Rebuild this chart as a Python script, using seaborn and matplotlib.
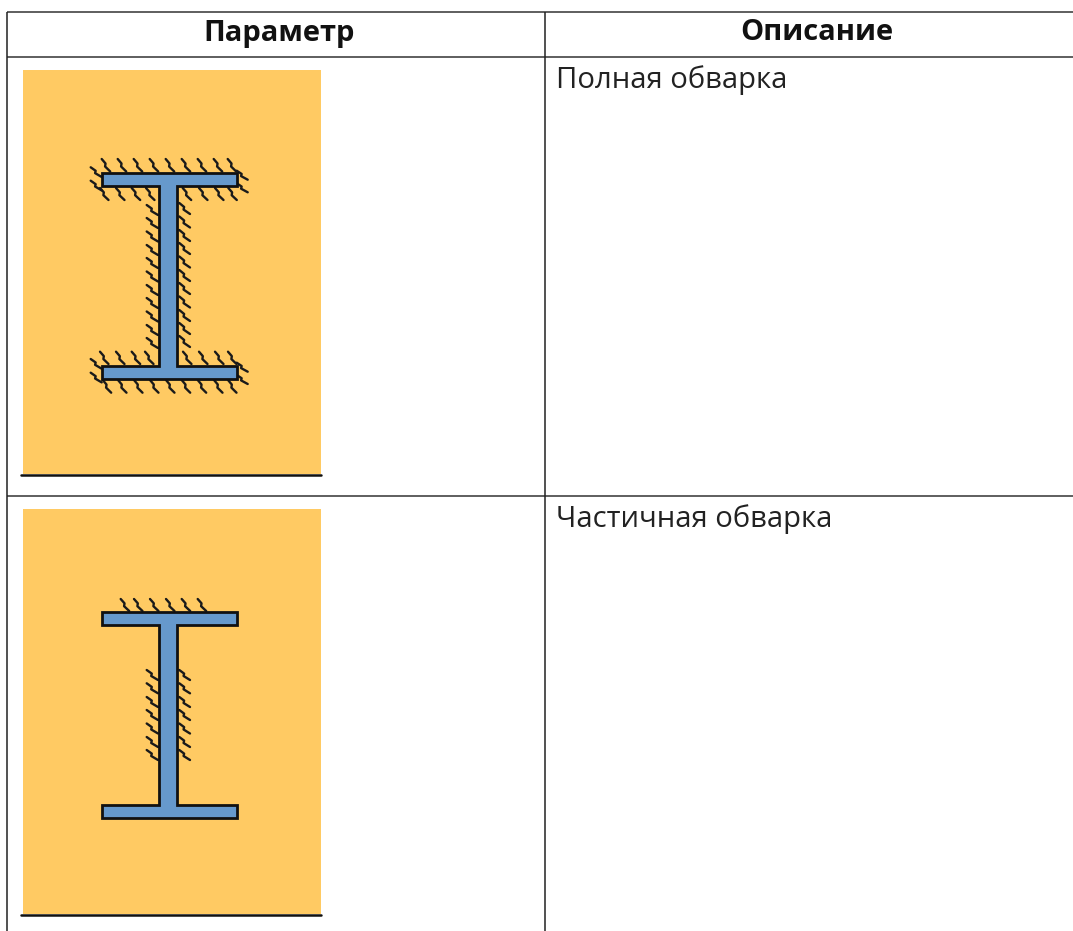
import matplotlib.pyplot as plt
import matplotlib.patches as mpatches
import seaborn as sns
import pandas as pd

# Table text
headers = ['Параметр', 'Описание']
descriptions = ['Полная обварка', 'Частичная обварка']

# Table rules, in image pixels
row_lines = [11.5, 57, 496]
col_lines = [7.2, 545.2]

# Drawing panels: top, bottom of the orange sheet and top of each beam
panel_top = [70, 509]
panel_bottom = [474, 914]
beam_top = [173, 612]

# Weld ticks of the full weld, (x, y) of the upper left end, relative to beam 1
flange_top_x = [101.7, 117.7, 133.7, 149.7, 165.7, 181.7, 197.7, 213.7, 227.7]
flange_under_x = [100, 116, 131.7, 146, 182.7, 199, 215, 228.3]
web_left_y = [205, 218, 231.5, 245, 258, 271.5, 285, 298, 311.5, 325, 338]
web_right_y = [203, 216.5, 230, 243, 256.5, 270, 283, 296.5, 310, 323, 336]
lower_top_x = [100, 116, 131.7, 145, 183, 199, 215, 228]
lower_under_x = [102.7, 118, 134, 150, 166, 181.7, 197.7, 214, 228]
end_left_y = [167.3, 180.7, 359, 372.7]
end_right_y = [170.7, 183.3, 362.7, 375]

# Weld ticks of the partial weld
part_top_x = [120.7, 134, 150, 166, 181.7, 197.7]
part_left_y = [670, 683.3, 697, 710, 723.5, 737, 750]
part_right_y = [670, 683.3, 697, 710, 723.5, 737, 750]


def add_tick(rows, x0, y0, dx, dy):
    # one small zigzag weld stroke going down and right
    n = rows[-1]['tick'] + 1 if rows else 0
    pts = [(0, 0), (0.45, 0.36), (0.4, 0.6), (1, 1)]
    for fx, fy in pts:
        rows.append({'x': x0 + fx * dx, 'y': y0 + fy * dy, 'tick': n})


def weld_ticks():
    rows = []
    for x in flange_top_x:
        add_tick(rows, x, 159, 8.5, 12.5)
    for x in flange_under_x:
        add_tick(rows, x, 188, 8.5, 12)
    for y in web_left_y:
        add_tick(rows, 146.7, y, 11.3, 10)
    for y in web_right_y:
        add_tick(rows, 179.3, y, 10.7, 11)
    for x in lower_top_x:
        add_tick(rows, x, 351.7, 8.5, 12.3)
    for x in lower_under_x:
        add_tick(rows, x, 380, 8.5, 12.7)
    for y in end_left_y:
        add_tick(rows, 90.7, y, 11, 9.7)
    for y in end_right_y:
        add_tick(rows, 236.7, y, 11, 9)
    for x in part_top_x:
        add_tick(rows, x, 599, 8.5, 12)
    for y in part_left_y:
        add_tick(rows, 146.7, y, 11.3, 10)
    for y in part_right_y:
        add_tick(rows, 179.3, y, 10.7, 10)
    return pd.DataFrame(rows)


def draw_beam(ax, top):
    # I-beam outline: flange, web, flange as a single polygon
    pts = [(102, top), (237, top), (237, top + 13), (177, top + 13),
           (177, top + 193), (237, top + 193), (237, top + 206),
           (102, top + 206), (102, top + 193), (159, top + 193),
           (159, top + 13), (102, top + 13)]
    ax.add_patch(mpatches.Polygon(pts, closed=True, facecolor='#6699CC',
                                  edgecolor='#111111', linewidth=2.0, zorder=4))


sns.set_theme(style='white')
plt.rcParams['font.family'] = ['Open Sans', 'DejaVu Sans']

fig = plt.figure(figsize=(10.73, 9.31), dpi=100)
ax = fig.add_axes([0, 0, 1, 1])

for top, bottom, beam in zip(panel_top, panel_bottom, beam_top):
    ax.add_patch(mpatches.Rectangle((23, top), 298, bottom - top,
                                    facecolor='#FFCA63', edgecolor='none', zorder=1))
    ax.plot([21, 321], [bottom + 1, bottom + 1], color='#111111', lw=1.8, zorder=2)
    draw_beam(ax, beam)

sns.lineplot(data=weld_ticks(), x='x', y='y', units='tick', estimator=None,
             sort=False, color='#1a1a1a', linewidth=1.7, ax=ax, zorder=3)

ax.hlines(row_lines, col_lines[0], 1073, color='#333333', lw=1.1, zorder=5)
ax.vlines(col_lines, row_lines[0], 931, color='#222222', lw=1.1, zorder=5)

for x, label in zip([279, 817], headers):
    ax.text(x, 33, label, ha='center', va='center', fontsize=21,
            fontweight='bold', color='#111111')
ax.text(556, 80.5, descriptions[0], ha='left', va='center', fontsize=21.1, color='#222222')
ax.text(556, 519.5, descriptions[1], ha='left', va='center', fontsize=21.1, color='#222222')

ax.set_xlim(0, 1073)
ax.set_ylim(931, 0)
ax.set_xlabel('')
ax.set_ylabel('')
ax.set_axis_off()

fig.savefig('out.png', dpi=100)
